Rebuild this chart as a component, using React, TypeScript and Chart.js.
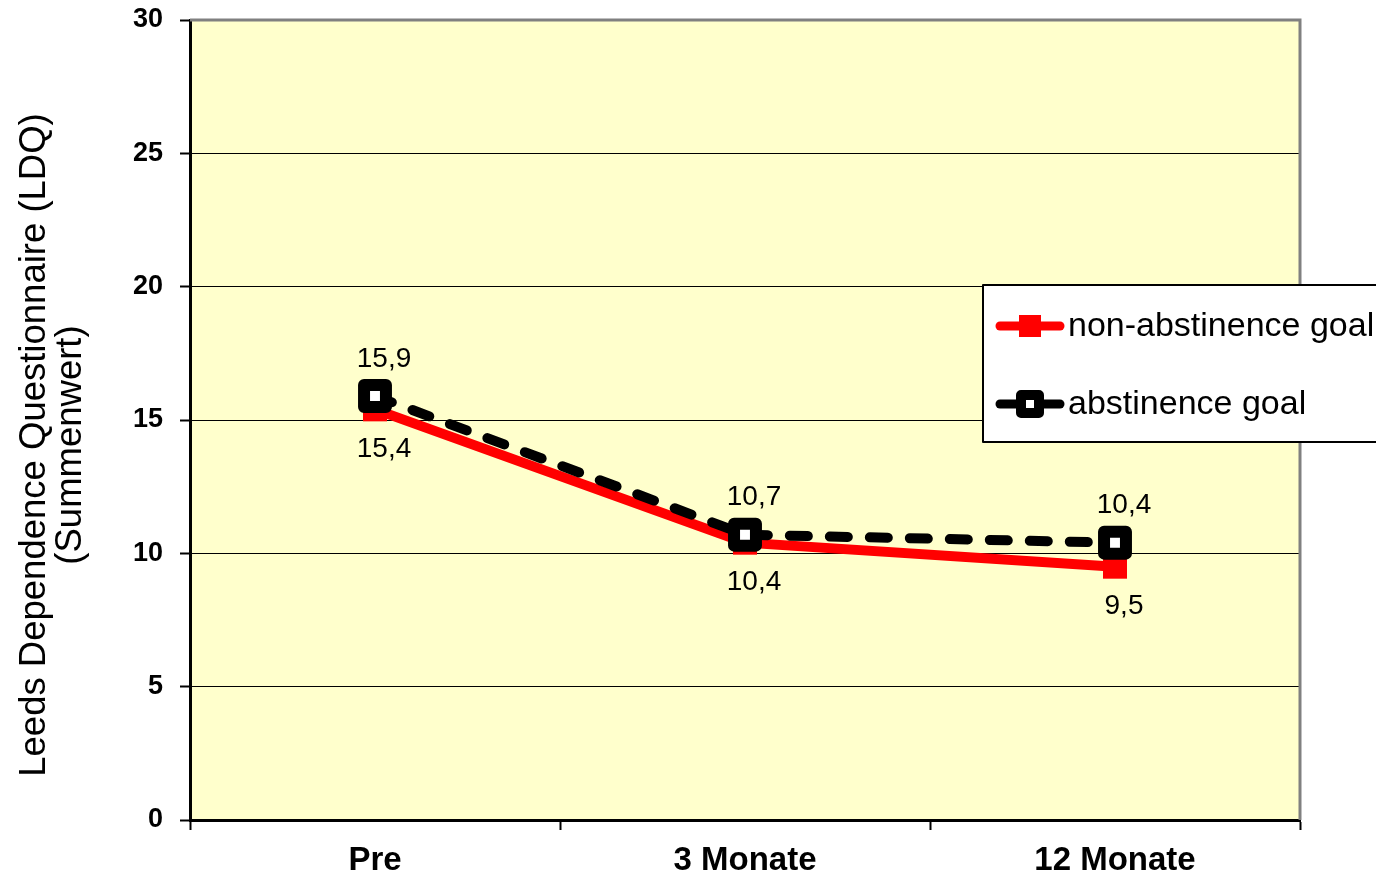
import React, { useEffect, useRef } from "react";
import { Chart, registerables } from "chart.js";

Chart.register(...registerables);

// Measurement points and LDQ sum scores per group
const categories = ["Pre", "3 Monate", "12 Monate"];
const nonAbstinenceGoal = [15.4, 10.4, 9.5];
const abstinenceGoal = [15.9, 10.7, 10.4];
const seriesNames = ["non-abstinence goal", "abstinence goal"];
const yTitleLines = ["Leeds Dependence Questionnaire (LDQ)", "(Summenwert)"];
const yMin = 0;
const yMax = 30;
const yStep = 5;

const FONT = '"Liberation Sans", Arial, sans-serif';
const RED = "#ff0000";
const BLACK = "#000000";
const PLOT_BG = "#ffffcc";

const fmt = (v: number) => v.toFixed(1).replace(".", ",");

// Yellow plot background plus the grey frame on top/right
const plotFrame = {
  id: "plotFrame",
  beforeDraw(chart: any) {
    const { ctx, chartArea: a } = chart;
    ctx.save();
    ctx.fillStyle = PLOT_BG;
    ctx.fillRect(a.left, a.top, a.right - a.left, a.bottom - a.top);
    ctx.restore();
  },
  beforeDatasetsDraw(chart: any) {
    const { ctx, chartArea: a } = chart;
    ctx.save();
    ctx.strokeStyle = "#808080";
    ctx.lineWidth = 3;
    ctx.beginPath();
    ctx.moveTo(a.left, a.top);
    ctx.lineTo(a.right, a.top);
    ctx.lineTo(a.right, a.bottom);
    ctx.stroke();
    ctx.restore();
  },
  beforeDatasetDraw(chart: any) {
    chart.ctx.lineJoin = "round";
  },
};

// Two-line rotated title of the value axis
const yTitle = {
  id: "yTitle",
  afterDraw(chart: any) {
    const { ctx } = chart;
    ctx.save();
    ctx.translate(35, 445);
    ctx.rotate(-Math.PI / 2);
    ctx.fillStyle = "#000";
    ctx.font = `36.5px ${FONT}`;
    ctx.textAlign = "center";
    ctx.textBaseline = "middle";
    yTitleLines.forEach((line, i) => ctx.fillText(line, 0, i * 36));
    ctx.restore();
  },
};

// Value labels: above the abstinence points, below the non-abstinence points
const valueLabels = {
  id: "valueLabels",
  afterDatasetsDraw(chart: any) {
    const { ctx } = chart;
    ctx.save();
    ctx.font = `28px ${FONT}`;
    ctx.fillStyle = "#000";
    ctx.textAlign = "center";
    ctx.textBaseline = "middle";
    chart.data.datasets.forEach((ds: any, di: number) => {
      const meta = chart.getDatasetMeta(di);
      const dy = ds.labelBelow ? 40 : -37;
      meta.data.forEach((pt: any, i: number) => {
        ctx.fillText(fmt(ds.data[i]), pt.x + 9, pt.y + dy);
      });
    });
    ctx.restore();
  },
};

function drawSquare(ctx: CanvasRenderingContext2D, x: number, y: number, s: number) {
  ctx.fillRect(x - s / 2, y - s / 2, s, s);
}

// Boxed legend at the right edge
const boxLegend = {
  id: "boxLegend",
  afterDraw(chart: any) {
    const { ctx } = chart;
    const bx = 983;
    const by = 285;
    const bw = 420;
    const bh = 157;
    ctx.save();
    ctx.fillStyle = "#fff";
    ctx.fillRect(bx, by, bw, bh);
    ctx.strokeStyle = "#000";
    ctx.lineWidth = 2;
    ctx.strokeRect(bx, by, bw, bh);

    const rows = [326, 404];
    chart.data.datasets.forEach((ds: any, i: number) => {
      const y = rows[i];
      ctx.save();
      ctx.strokeStyle = ds.borderColor;
      ctx.lineWidth = 9;
      ctx.lineCap = "round";
      ctx.beginPath();
      ctx.moveTo(1000, y);
      ctx.lineTo(1060, y);
      ctx.stroke();
      if (ds.pointBackgroundColor === "#ffffff") {
        ctx.lineJoin = "round";
        ctx.strokeStyle = BLACK;
        ctx.lineWidth = 10;
        ctx.fillStyle = "#fff";
        ctx.beginPath();
        ctx.rect(1030 - 9, y - 9, 18, 18);
        ctx.fill();
        ctx.stroke();
      } else {
        ctx.fillStyle = ds.pointBackgroundColor;
        drawSquare(ctx, 1030, y, 22);
      }
      ctx.restore();
      ctx.fillStyle = "#000";
      ctx.font = `34px ${FONT}`;
      ctx.textAlign = "left";
      ctx.textBaseline = "middle";
      ctx.fillText(ds.label, 1068, y + 1);
    });
    ctx.restore();
  },
};

export default function App() {
  const canvasRef = useRef<HTMLCanvasElement | null>(null);

  useEffect(() => {
    const canvas = canvasRef.current;
    if (!canvas) return;
    const chart = new Chart(canvas, {
      type: "line",
      data: {
        labels: categories,
        datasets: [
          {
            label: seriesNames[0],
            data: nonAbstinenceGoal,
            borderColor: RED,
            borderWidth: 10,
            pointStyle: "rect",
            pointRadius: 17,
            pointBorderWidth: 0,
            pointBackgroundColor: RED,
            pointBorderColor: RED,
            tension: 0,
            order: 2,
            labelBelow: true,
          } as any,
          {
            label: seriesNames[1],
            data: abstinenceGoal,
            borderColor: BLACK,
            borderWidth: 10,
            borderDash: [18, 22],
            borderCapStyle: "round",
            pointStyle: "rect",
            pointRadius: 15.5,
            pointBorderWidth: 12,
            pointBackgroundColor: "#ffffff",
            pointBorderColor: BLACK,
            tension: 0,
            order: 1,
          } as any,
        ],
      },
      options: {
        responsive: false,
        animation: false,
        devicePixelRatio: 1,
        layout: { autoPadding: false, padding: { top: 20, right: 76, bottom: 0, left: 0 } },
        plugins: {
          legend: { display: false },
          tooltip: { enabled: false },
        },
        scales: {
          x: {
            type: "category",
            offset: true,
            grid: {
              offset: true,
              drawOnChartArea: false,
              drawTicks: true,
              tickLength: 10,
              tickColor: BLACK,
              tickWidth: 2,
            },
            border: { color: BLACK, width: 3 },
            ticks: {
              color: "#000",
              padding: 11,
              font: { family: FONT, size: 33, weight: "bold" },
            },
            afterFit(scale: any) {
              scale.height = 61;
              scale.paddingLeft = 0;
              scale.paddingRight = 0;
            },
          },
          y: {
            min: yMin,
            max: yMax,
            grid: {
              color: (c: any) =>
                c.tick && (c.tick.value === yMin || c.tick.value === yMax) ? "rgba(0,0,0,0)" : BLACK,
              lineWidth: 1,
              drawTicks: true,
              tickLength: 10,
              tickColor: BLACK,
              tickWidth: 2,
            },
            border: { color: BLACK, width: 3 },
            ticks: {
              stepSize: yStep,
              color: "#000",
              padding: 17,
              font: { family: FONT, size: 27, weight: "bold" },
            },
            afterFit(scale: any) {
              scale.width = 190;
              scale.paddingTop = 0;
              scale.paddingBottom = 0;
            },
          },
        },
      },
      plugins: [plotFrame, valueLabels, yTitle, boxLegend],
    });
    return () => chart.destroy();
  }, []);

  return (
    <div style={{ position: "fixed", left: 0, top: 0, width: 1376, height: 881, background: "#fff" }}>
      <canvas ref={canvasRef} width={1376} height={881} style={{ display: "block" }} />
    </div>
  );
}
